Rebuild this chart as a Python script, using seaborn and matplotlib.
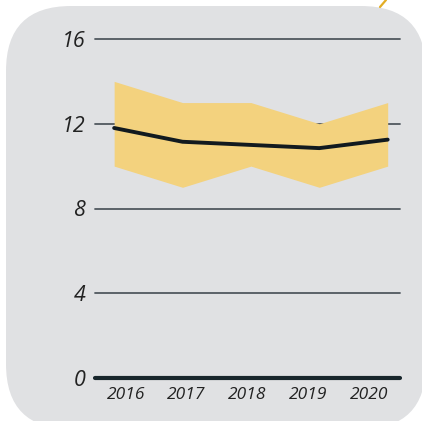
import numpy as np
import pandas as pd
import matplotlib.pyplot as plt
import seaborn as sns
from matplotlib.patches import FancyBboxPatch
from matplotlib.lines import Line2D

# values
years = [2016, 2017, 2018, 2019, 2020]
band_low = [10, 9, 10, 9, 10]
band_high = [14, 13, 13, 12, 13]
median = [11.8, 11.15, 11.0, 10.85, 11.25]
y_ticks = [0, 4, 8, 12, 16]

df = pd.DataFrame({"year": years, "low": band_low, "high": band_high, "mid": median})

sns.set_style("white")
plt.rcParams["font.family"] = ["Open Sans", "DejaVu Sans"]

fig = plt.figure(figsize=(4.22, 4.21), dpi=100)
fig.patch.set_facecolor("white")

# rounded grey card behind the chart
card = FancyBboxPatch((0.06, -0.08), 4.2, 4.23,
                      boxstyle="round,pad=0,rounding_size=0.65",
                      transform=fig.dpi_scale_trans,
                      facecolor="#e0e1e3", edgecolor="none", zorder=-5)
fig.patches.append(card)

# small yellow stroke at the top right
fig.lines.append(Line2D([380 / 422, 386 / 422], [1 - 7 / 421, 1.0],
                        transform=fig.transFigure, color="#e3ad25", lw=1.6, zorder=-4))

ax = fig.add_axes([95 / 422, 43 / 421, 305 / 422, 339 / 421])
ax.set_facecolor("none")
ax.set_zorder(2)

for t in y_ticks[1:]:
    ax.axhline(t, color="#50585f", lw=1.3, zorder=1, clip_on=False)
ax.axhline(0, color="#18262c", lw=3.0, zorder=4, clip_on=False)

ax.fill_between(df["year"], df["low"], df["high"], color="#f3d27e", lw=0, zorder=2)
sns.lineplot(data=df, x="year", y="mid", ax=ax, color="#111a1f", lw=2.8, zorder=3)

ax.set_xlim(2016 - 0.28, 2020 + 0.18)
ax.set_ylim(0, 16)

ax.set_yticks(y_ticks)
ax.set_yticklabels([str(t) for t in y_ticks], fontsize=15.5, style="italic", color="#222222")
ax.set_xticks(np.linspace(2016.17, 2019.73, len(years)))
ax.set_xticklabels([str(y) for y in years], fontsize=12.5, style="italic", color="#222222")
ax.tick_params(axis="y", length=0, pad=7)
ax.tick_params(axis="x", length=0, pad=6.5)
ax.set_xlabel("")
ax.set_ylabel("")
for s in ax.spines.values():
    s.set_visible(False)

fig.savefig("out.png", dpi=100)
